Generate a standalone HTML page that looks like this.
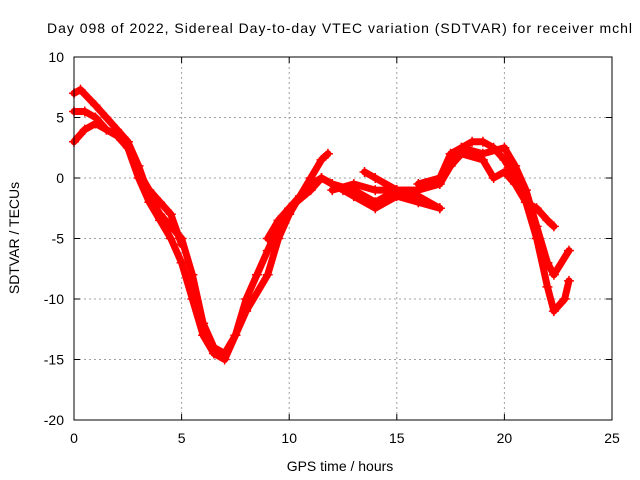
<!DOCTYPE html>
<html><head><meta charset="utf-8"><style>
body{margin:0;background:#fff}
svg{display:block;font-family:"Liberation Sans",sans-serif;font-size:14px}
</style></head><body>
<svg id="chart" width="640" height="480" viewBox="0 0 640 480" xmlns="http://www.w3.org/2000/svg">
<rect x="0" y="0" width="640" height="480" fill="#fff"/>
<text x="47" y="33" textLength="585" lengthAdjust="spacing">Day 098 of 2022, Sidereal Day-to-day VTEC variation (SDTVAR) for receiver mchl</text>
<g id="grid"></g>
<g id="series"></g>
<rect x="74" y="57" width="538" height="363" fill="none" stroke="#000" stroke-width="1"/>
<g id="ticks"></g>
<text x="340" y="471" text-anchor="middle">GPS time / hours</text>
<text transform="translate(19,238) rotate(-90)" text-anchor="middle">SDTVAR / TECUs</text>
</svg>
<script>
const xTicks=[0,5,10,15,20,25];
const yTicks=[10,5,0,-5,-10,-15,-20];
const trackA=[[0,7],[0.3,7.3],[1,6],[1.5,5],[2,4],[2.5,3],[3,1],[3.5,-1.5],[4,-3],[4.5,-4],[5,-5],[5.5,-8],[6,-12],[6.5,-14],[7,-14.5],[7.5,-13],[8,-11],[9,-8],[9.5,-5],[10,-3],[10.5,-1.5],[11,-0.5],[11.5,0],[12,-0.5]];
const trackB=[[0,5.5],[0.5,5.5],[1,5],[1.5,4],[2,3.5],[2.5,2.5],[3,0],[3.5,-2],[4,-3.5],[4.5,-5],[5,-7],[5.5,-10],[6,-13],[6.5,-14.5],[7,-15],[7.5,-13],[8,-10],[8.5,-8],[9,-6],[9.5,-4],[10,-2.5],[11,-1],[11.5,0],[12,-0.5],[12.5,-1],[13,-1.5],[14,-2.5],[15,-1.5],[16,-2],[17,-2.5]];
const trackC=[[0,3],[0.5,4],[1,4.5],[1.5,4],[2,3.5],[2.5,3],[3,0.5],[3.5,-1],[4,-2],[4.5,-3],[5,-5.5]];
const trackD=[[9,-5],[9.5,-3.5],[10,-2.5],[10.5,-1.5],[11,0],[11.5,1.5],[11.8,2]];
const trackE=[[12,-1],[13,-0.5],[14,-1],[15,-1],[16,-1],[17,-0.5],[17.5,1],[18,2.5],[18.5,3],[19,3],[19.5,2.5],[20,1.5],[20.5,0],[21,-2],[21.5,-5],[22,-9],[22.3,-11],[22.8,-10],[23,-8.5]];
const trackF=[[13.5,0.5],[14,0],[15,-1],[16,-1],[17,0],[17.5,2],[18,2.5],[19,2],[20,2.5],[20.5,1],[21,-1],[21.5,-4],[22,-7],[22.3,-8],[23,-6]];
const trackG=[[16,-0.5],[17,0],[17.5,1],[18,2],[19,1.5],[19.5,0],[20,0.5],[20.5,-0.5],[21,-2],[21.5,-2.5],[22,-3.5],[22.3,-4]];
const trackH=[[12,-0.5],[13,-1],[14,-2],[15,-1],[16,-1.5],[17,-2.5]];
const tracks=[trackA,trackB,trackC,trackD,trackE,trackF,trackG,trackH];
const NS='http://www.w3.org/2000/svg';
const L=74,R=612,T=57,B=420;
const sx=v=>L+(v-0)/(25-0)*(R-L);
const sy=v=>B-(v-(-20))/(10-(-20))*(B-T);
const grid=document.getElementById('grid'),ticks=document.getElementById('ticks'),ser=document.getElementById('series');
function mk(tag,a,p){const e=document.createElementNS(NS,tag);for(const k in a)e.setAttribute(k,a[k]);p.appendChild(e);return e;}
xTicks.forEach(t=>{const x=sx(t);
 if(t>0&&t<25){const g=mk('line',{x1:x,y1:T,x2:x,y2:B,stroke:'#a0a0a0','stroke-dasharray':'2,3'},grid);
 
 }
 mk('line',{x1:x,y1:B,x2:x,y2:B-6,stroke:'#000'},ticks);mk('line',{x1:x,y1:T,x2:x,y2:T+6,stroke:'#000'},ticks);
 const tx=mk('text',{x:x,y:B+23,'text-anchor':'middle'},ticks);tx.textContent=t;
 
 });
yTicks.forEach(t=>{const y=sy(t);
 if(t<10&&t>-20){const g=mk('line',{x1:L,y1:y,x2:R,y2:y,stroke:'#a0a0a0','stroke-dasharray':'2,3'},grid);
 
 }
 mk('line',{x1:L,y1:y,x2:L+6,y2:y,stroke:'#000'},ticks);mk('line',{x1:R,y1:y,x2:R-6,y2:y,stroke:'#000'},ticks);
 const tx=mk('text',{x:L-10,y:y+5,'text-anchor':'end'},ticks);tx.textContent=t;
 
 });
tracks.forEach((tr,i)=>{
 const pl=mk('polyline',{points:tr.map(p=>sx(p[0])+','+sy(p[1])).join(' '),fill:'none',stroke:'#ff0000','stroke-width':7,'stroke-linejoin':'round','stroke-linecap':'round'},ser);
 
 
 tr.forEach(p=>{const x=sx(p[0]),y=sy(p[1]);
  const m=mk('path',{d:`M${x-5},${y}H${x+5}M${x},${y-5}V${y+5}`,stroke:'#ff0000','stroke-width':1.5},ser);
  
  });
});
</script>
</body></html>
